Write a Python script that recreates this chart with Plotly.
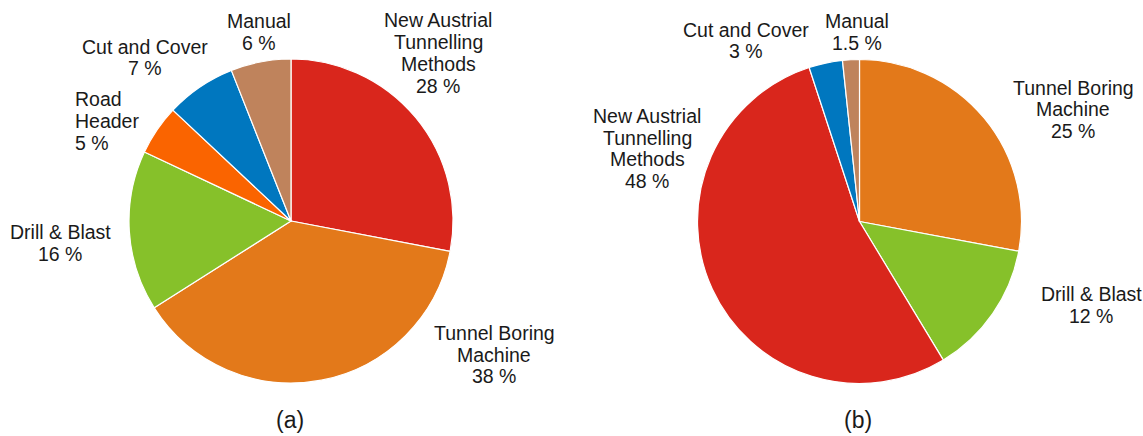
import plotly.graph_objects as go

# ---------------- data ----------------
cats_a = ["New Austrial Tunnelling Methods", "Tunnel Boring Machine", "Drill & Blast",
          "Road Header", "Cut and Cover", "Manual"]
vals_a = [28, 38, 16, 5, 7, 6]

cats_b = ["Tunnel Boring Machine", "Drill & Blast", "New Austrial Tunnelling Methods",
          "Cut and Cover", "Manual"]
vals_b = [25, 12, 48, 3, 1.5]

captions = ["(a)", "(b)"]

# label line breaks (text only)
label_lines = {
    "New Austrial Tunnelling Methods": ["New Austrial", "Tunnelling", "Methods"],
    "Tunnel Boring Machine": ["Tunnel Boring", "Machine"],
    "Drill & Blast": ["Drill & Blast"],
    "Road Header": ["Road", "Header"],
    "Cut and Cover": ["Cut and Cover"],
    "Manual": ["Manual"],
}

colors = {
    "New Austrial Tunnelling Methods": "#D9261C",
    "Tunnel Boring Machine": "#E3791A",
    "Drill & Blast": "#86C12A",
    "Road Header": "#FA6400",
    "Cut and Cover": "#0077BF",
    "Manual": "#BF835C",
}

# ---------------- layout / style ----------------
W, H = 1143, 436
R = 162
centers = [(291, 221), (859.5, 221.5)]
# label block centre offsets from pie centre (pixels), and alignment
label_pos_a = {
    "New Austrial Tunnelling Methods": (147, -168, "center"),
    "Tunnel Boring Machine": (203, 133.5, "center"),
    "Drill & Blast": (-231, 22, "center"),
    "Road Header": (-218, -100, "left"),
    "Cut and Cover": (-146, -163.5, "center"),
    "Manual": (-32, -189, "center"),
}
label_pos_b = {
    "Tunnel Boring Machine": (213.5, -112, "center"),
    "Drill & Blast": (231.5, 83.5, "center"),
    "New Austrial Tunnelling Methods": (-212.5, -73, "center"),
    "Cut and Cover": (-113.5, -181, "center"),
    "Manual": (-2.5, -189.5, "center"),
}
LINE_H = 21.7
FONT = "Liberation Sans, Arial, sans-serif"
TXT = "#1a1a1a"
FS = 19.5


def fmt(v):
    return f"{v:g} %"


fig = go.Figure()
annotations = []

for (cats, vals, lpos, (cx, cy), cap) in [
    (cats_a, vals_a, label_pos_a, centers[0], captions[0]),
    (cats_b, vals_b, label_pos_b, centers[1], captions[1]),
]:
    fig.add_trace(go.Pie(
        labels=cats, values=vals, sort=False, direction="clockwise", rotation=0,
        marker=dict(colors=[colors[c] for c in cats], line=dict(color="white", width=1.2)),
        textinfo="none", hoverinfo="label+value", showlegend=False,
        domain=dict(x=[(cx - R) / W, (cx + R) / W], y=[1 - (cy + R) / H, 1 - (cy - R) / H]),
    ))
    for c, v in zip(cats, vals):
        lines = label_lines[c] + [fmt(v)]
        dx, dy, align = lpos[c]
        n = len(lines)
        for i, ln in enumerate(lines):
            py = cy + dy + (i - (n - 1) / 2) * LINE_H
            px = cx + dx
            annotations.append(dict(
                text=ln, x=px / W, y=1 - py / H, xref="paper", yref="paper",
                xanchor="left" if align == "left" else "center", yanchor="middle",
                showarrow=False, font=dict(family=FONT, size=FS, color=TXT),
            ))
    annotations.append(dict(
        text=cap, x=(cx - 1.5) / W, y=1 - 420 / H, xref="paper", yref="paper",
        xanchor="center", yanchor="middle", showarrow=False,
        font=dict(family=FONT, size=23, color=TXT),
    ))

fig.update_layout(
    width=W, height=H, margin=dict(l=0, r=0, t=0, b=0),
    paper_bgcolor="white", plot_bgcolor="white",
    annotations=annotations,
)

fig.write_html(
    "out.html",
    config={"displayModeBar": False},
    post_script="document.body.style.margin='0';document.body.style.overflow='hidden';",
)
